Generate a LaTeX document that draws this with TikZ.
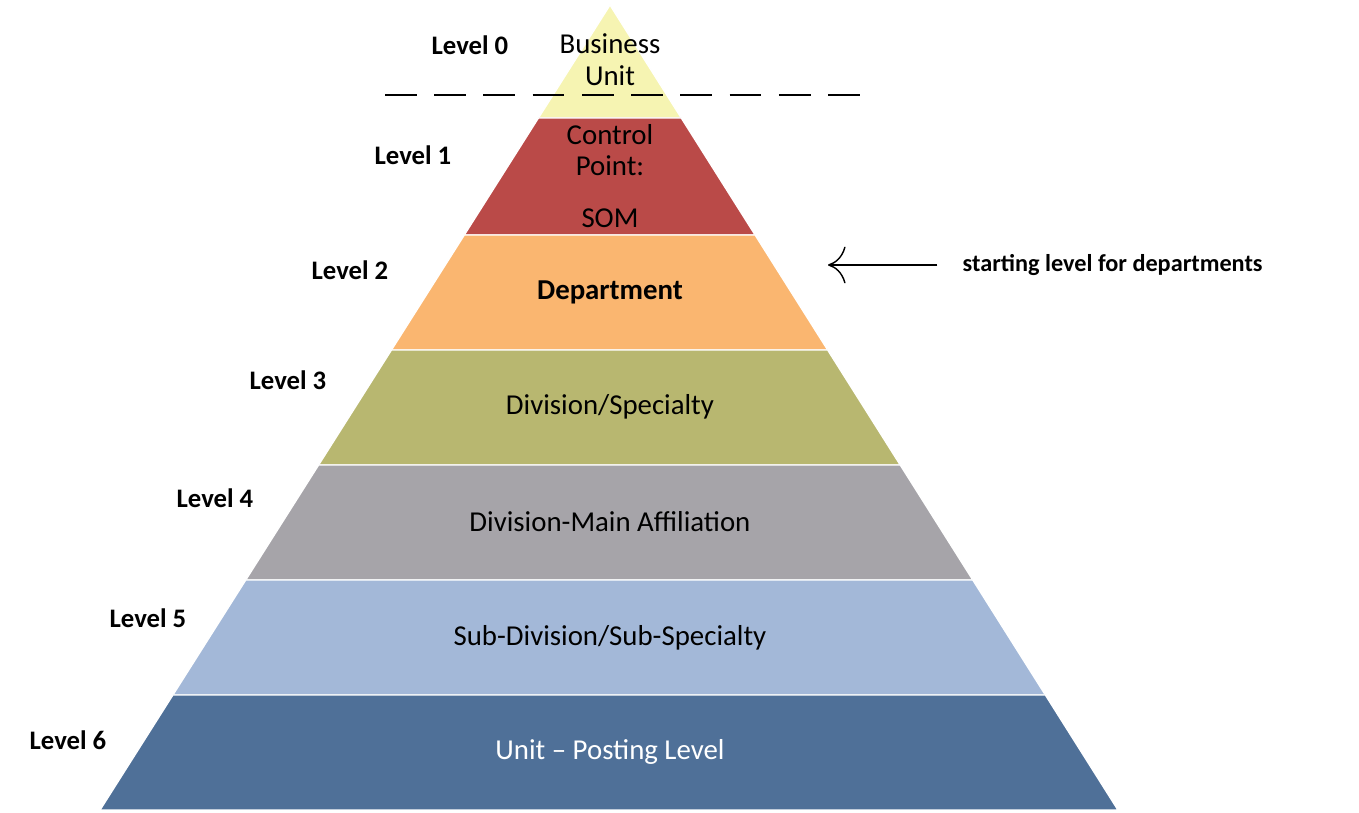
\documentclass[tikz,border=0pt]{standalone}
\usepackage{fontspec}
\setmainfont{Carlito}
\usetikzlibrary{positioning, calc, arrows.meta}
\definecolor{lvlzero}{RGB}{246, 244, 178}
\definecolor{lvlone}{RGB}{186, 74, 72}
\definecolor{lvltwo}{RGB}{250, 182, 112}
\definecolor{lvlthree}{RGB}{184, 183, 112}
\definecolor{lvlfour}{RGB}{166, 164, 169}
\definecolor{lvlfive}{RGB}{163, 184, 216}
\definecolor{lvlsix}{RGB}{79, 112, 152}

\begin{document}
\begin{tikzpicture}[x=0.01cm, y=-0.01cm,
    band/.style={draw=white, line width=0.4pt},
    bandtext/.style={font=\fontsize{8.2}{9}\selectfont, align=center, inner sep=0pt},
    level/.style={font=\fontsize{7.6}{9}\selectfont\bfseries, inner sep=0pt}
]
    \useasboundingbox (0,0) rectangle (1359,813);

    % Pyramid bands
    \foreach \t/\b/\c in {5/118/lvlzero, 118/235/lvlone, 235/350/lvltwo, 350/465/lvlthree, 465/580/lvlfour, 580/695/lvlfive, 695/810/lvlsix}
        \fill[\c, band] ({610-0.6335*(\t-5)},\t) -- ({610+0.631*(\t-5)},\t)
            -- ({610+0.631*(\b-5)},\b) -- ({610-0.6335*(\b-5)},\b) -- cycle;

    % Band texts
    \node[bandtext] (bu) at (610,60) {Business\\Unit};
    \node[bandtext] (cp) at (610,150) {Control\\Point:};
    \node[bandtext] (som) at (610,218) {SOM};
    \node[bandtext, font=\fontsize{8.2}{9}\selectfont\bfseries] (dept) at (610,292) {Department};
    \node[bandtext] (div) at (610,407) {Division/Specialty};
    \node[bandtext] (dma) at (610,522) {Division-Main Affiliation};
    \node[bandtext] (sub) at (610,638) {Sub-Division/Sub-Specialty};
    \node[bandtext, text=white] (unit) at (610,752) {Unit -- Posting Level};

    % Level labels
    \node[level] (l0) at (470,45) {Level 0};
    \node[level] (l1) at (413,155) {Level 1};
    \node[level] (l2) at (350,270) {Level 2};
    \node[level] (l3) at (288,380) {Level 3};
    \node[level] (l4) at (215,498) {Level 4};
    \node[level] (l5) at (148,618) {Level 5};
    \node[level] (l6) at (68,740) {Level 6};

    % Cut line and note
    \coordinate (cl) at (385,95);
    \coordinate (cr) at (872,95);
    \draw[dashed, dash pattern=on 9pt off 5pt] (cl) -- (cr);
    \node[level, font=\fontsize{6.9}{8}\selectfont\bfseries, anchor=west] (note) at (962,265) {starting level for departments};
    \coordinate (tip) at (828,265);
    \draw[-{To[length=5pt]}] ([xshift=-7pt]note.west) -- (tip);
\end{tikzpicture}
\end{document}
